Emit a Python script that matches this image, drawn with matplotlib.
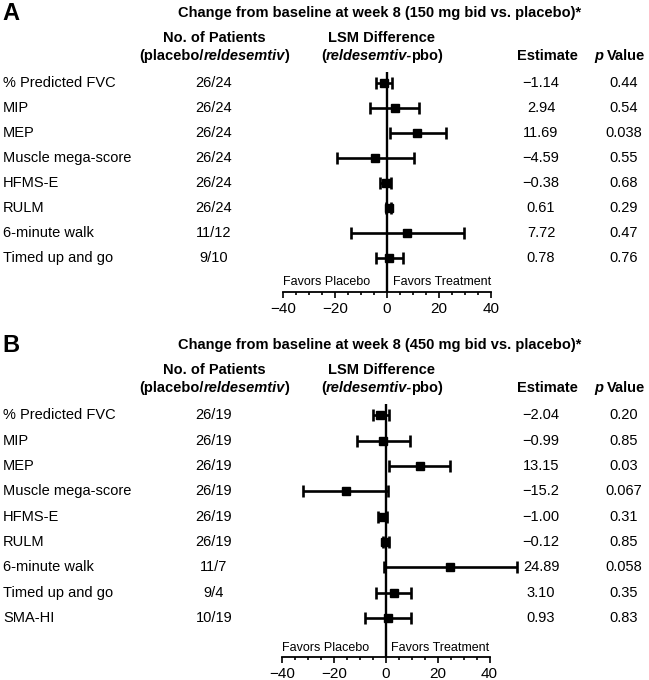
import numpy as np
import matplotlib
matplotlib.use("Agg")
import matplotlib.pyplot as plt
import matplotlib.transforms as mtransforms
from matplotlib.ticker import MultipleLocator

plt.rcParams['font.family'] = ['Liberation Sans', 'DejaVu Sans']

# panel A: 150 mg bid vs placebo
labels_a = ['% Predicted FVC', 'MIP', 'MEP', 'Muscle mega-score', 'HFMS-E', 'RULM',
            '6-minute walk', 'Timed up and go']
n_a = ['26/24', '26/24', '26/24', '26/24', '26/24', '26/24', '11/12', '9/10']
est_a = ['−1.14', '2.94', '11.69', '−4.59', '−0.38', '0.61', '7.72', '0.78']
lo_a = [-4.2, -6.6, 1.2, -19.4, -2.7, -0.4, -14.0, -4.2]
hi_a = [1.8, 12.4, 22.6, 10.5, 1.5, 1.4, 29.5, 6.0]
p_a = ['0.44', '0.54', '0.038', '0.55', '0.68', '0.29', '0.47', '0.76']

# panel B: 450 mg bid vs placebo
labels_b = labels_a + ['SMA-HI']
n_b = ['26/19', '26/19', '26/19', '26/19', '26/19', '26/19', '11/7', '9/4', '10/19']
est_b = ['−2.04', '−0.99', '13.15', '−15.2', '−1.00', '−0.12', '24.89', '3.10', '0.93']
lo_b = [-5.1, -11.2, 1.2, -31.8, -2.8, -0.9, -0.5, -3.7, -8.0]
hi_b = [1.2, 9.3, 24.9, 1.0, 0.6, 1.2, 50.6, 9.7, 9.7]
p_b = ['0.20', '0.85', '0.03', '0.067', '0.31', '0.85', '0.058', '0.35', '0.83']

W, H = 649, 680
fig = plt.figure(figsize=(W / 100, H / 100), dpi=100)


def fx(px):
    return px / W


def fy(py):
    return 1 - py / H


def rich(xc, yc, parts, size=10):
    # bold text made of pieces (text, style, extra px after), centered at xc (px)
    ts = [fig.text(0, fy(yc), s, fontsize=size, fontweight='bold', fontstyle=st, va='center')
          for s, st, _ in parts]
    r = fig.canvas.get_renderer()
    ws = [t.get_window_extent(r).width + d for t, (_, _, d) in zip(ts, parts)]
    cur = xc - sum(ws) / 2
    for t, w in zip(ts, ws):
        t.set_x(fx(cur))
        cur += w


def panel(letter, title, top, ax_box, ylim, fav_y, labels, n, est, lo, hi, p):
    # top: pixel y of title line
    fig.text(fx(2), fy(top), letter, fontsize=17, fontweight='bold', va='center')
    fig.text(fx(380), fy(top), title, fontsize=10.5, fontweight='bold', va='center', ha='center')
    h1, h2 = top + 25, top + 43
    fig.text(fx(214), fy(h1), 'No. of Patients', fontsize=10.5, fontweight='bold',
             ha='center', va='center')
    rich(214, h2, [('(placebo/', 'normal', 0), ('reldesemtiv', 'italic', -1), (')', 'normal', 0)], 10.5)
    fig.text(fx(382), fy(h1), 'LSM Difference', fontsize=10.5, fontweight='bold',
             ha='center', va='center')
    rich(382, h2, [('(', 'normal', 0), ('reldesemtiv-', 'italic', -1), ('pbo)', 'normal', 0)], 10.5)
    fig.text(fx(547), fy(h2), 'Estimate', fontsize=10.5, fontweight='bold',
             ha='center', va='center')
    rich(620, h2, [('p', 'italic', 3.5), ('Value', 'normal', 0)], 10.5)

    l, r, t, b = ax_box
    ax = fig.add_axes([fx(l), fy(b), fx(r) - fx(l), fy(t) - fy(b)])
    e = np.array([float(s.replace('−', '-')) for s in est])
    y = np.arange(len(labels))
    eb = ax.errorbar(e, y, xerr=[e - np.array(lo), np.array(hi) - e], fmt='s', color='black',
                     ms=5.5, lw=1.9, capsize=4, capthick=1.9)
    for a in eb.get_children():
        a.set_clip_on(False)
    ax.axvline(0, color='black', lw=1.7)
    ax.set_xlim(-40, 40)
    ax.set_ylim(*ylim)
    for s in ['top', 'left', 'right']:
        ax.spines[s].set_visible(False)
    ax.spines['bottom'].set_linewidth(1.3)
    ax.set_yticks([])
    ax.xaxis.set_major_locator(MultipleLocator(20))
    ax.xaxis.set_minor_locator(MultipleLocator(5))
    ax.tick_params(axis='x', which='major', length=4.5, width=1.2, pad=2.5, labelsize=11)
    ax.tick_params(axis='x', which='minor', length=2.5, width=1.2)
    ax.text(-40, fav_y, 'Favors Placebo', fontsize=9, ha='left', va='center')
    ax.text(40, fav_y, 'Favors Treatment', fontsize=9, ha='right', va='center')

    tr = mtransforms.blended_transform_factory(fig.transFigure, ax.transData)
    for i in range(len(labels)):
        ax.text(fx(3), i, labels[i], transform=tr, fontsize=10.5, va='center', ha='left')
        ax.text(fx(214), i, n[i], transform=tr, fontsize=10.5, va='center', ha='center')
        ax.text(fx(541), i, est[i], transform=tr, fontsize=10.5, va='center', ha='center')
        ax.text(fx(624), i, p[i], transform=tr, fontsize=10.5, va='center', ha='center')


panel('A', 'Change from baseline at week 8 (150 mg bid vs. placebo)*', 13,
      (283, 491, 72, 292.3), (8.39, -0.42), 7.99,
      labels_a, n_a, est_a, lo_a, hi_a, p_a)
panel('B', 'Change from baseline at week 8 (450 mg bid vs. placebo)*', 345,
      (282, 489.5, 404, 657.3), (9.55, -0.45), 9.2,
      labels_b, n_b, est_b, lo_b, hi_b, p_b)

fig.savefig('out.png', dpi=100)
